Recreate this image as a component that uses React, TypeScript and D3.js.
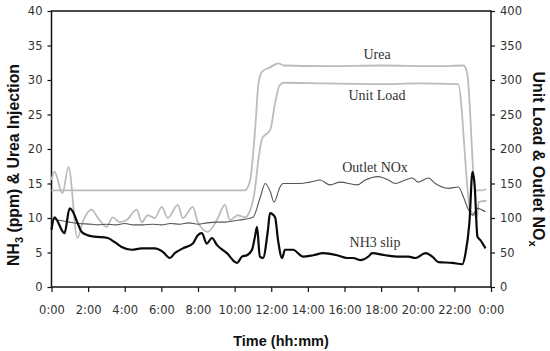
import { axisBottom, axisLeft, axisRight, curveMonotoneX, line, scaleLinear, select } from "d3";
import { useEffect, useRef } from "react";

// [hour, value] pairs
const urea: [number, number][] = [
  [0, 14], [5, 14], [10.56, 14], [10.85, 15.5], [11.0, 19], [11.15, 24],
  [11.3, 29.5], [11.5, 31.2], [11.9, 31.8], [12.4, 32.4], [12.7, 32.1],
  [15, 32], [18, 32.1], [21, 32], [22.5, 32.1], [22.7, 31], [23.15, 14],
  [23.5, 14], [23.75, 14.2],
];

const unitLoad: [number, number][] = [
  [0, 155], [0.16, 167], [0.6, 136], [0.93, 174], [1.42, 71], [1.7, 94],
  [2.19, 112], [2.52, 101], [3.01, 87], [3.34, 101], [3.72, 94], [4.1, 97],
  [4.65, 112], [4.93, 94], [5.25, 104], [5.64, 100], [6.02, 116], [6.35, 100],
  [6.9, 119], [7.17, 100], [7.72, 116], [7.99, 94], [8.54, 80], [9.03, 97],
  [9.47, 119], [9.74, 97], [10.18, 104], [10.56, 101], [10.9, 115], [11.1, 140],
  [11.3, 185], [11.5, 215], [11.95, 228], [12.2, 265], [12.45, 292], [12.7, 296],
  [15, 295], [18, 294], [20, 295], [22.2, 294], [22.88, 110], [23.26, 103],
  [23.32, 123], [23.75, 125],
];

const outletNox: [number, number][] = [
  [0, 99], [1.0, 94], [1.5, 92], [2.2, 91], [2.5, 90], [3.0, 91], [3.5, 90],
  [4.0, 92], [4.5, 90], [5.0, 90], [5.5, 91], [6.0, 90], [6.5, 92], [7.0, 91],
  [7.5, 93], [8.0, 91], [8.5, 93], [9.0, 94], [9.5, 94], [10.0, 96], [10.5, 98],
  [11.0, 101], [11.4, 130], [11.67, 150], [11.95, 138], [12.15, 123], [12.48, 145],
  [12.64, 150], [13.57, 150], [14.12, 152], [14.67, 155], [15.21, 148], [15.76, 152],
  [16.7, 148], [17.13, 155], [17.84, 160], [18.39, 155], [18.77, 150], [19.32, 155],
  [19.7, 158], [20.03, 152], [20.58, 158], [20.96, 150], [21.67, 143], [22.22, 145],
  [22.5, 130], [22.77, 112], [22.99, 104], [23.26, 114], [23.7, 109],
];

const nh3Slip: [number, number][] = [
  [0, 8.3], [0.16, 10.1], [0.71, 7.8], [0.99, 11.4], [1.15, 11.0], [1.42, 9.3],
  [1.64, 8.0], [1.97, 7.5], [2.35, 7.3], [3.07, 7.1], [3.45, 6.5], [3.83, 5.8],
  [4.38, 5.4], [4.93, 5.6], [5.64, 5.6], [6.08, 5.1], [6.46, 4.2], [6.73, 4.9],
  [7.17, 5.6], [7.72, 6.3], [7.99, 7.5], [8.21, 7.8], [8.48, 6.3], [8.76, 7.1],
  [9.03, 6.1], [9.58, 4.9], [10.13, 3.5], [10.4, 4.4], [10.67, 4.6], [10.95, 5.4],
  [11.11, 7.3], [11.22, 8.7], [11.38, 4.4], [11.55, 4.2], [11.82, 8.3], [11.93, 10.7],
  [12.21, 10.1], [12.37, 6.8], [12.59, 4.2], [12.75, 5.4], [13.19, 5.4], [13.74, 4.4],
  [14.29, 4.6], [14.83, 4.9], [15.6, 4.6], [16.15, 4.2], [16.47, 4.2], [16.86, 3.9],
  [17.3, 4.4], [17.51, 4.9], [18.23, 4.6], [18.94, 4.4], [19.49, 4.4], [19.87, 4.2],
  [20.42, 4.9], [20.8, 4.4], [21.13, 3.6], [21.89, 3.5], [22.44, 3.3], [22.61, 4.9],
  [22.82, 9.3], [22.99, 16.7], [23.1, 15], [23.26, 7.3], [23.42, 6.8], [23.7, 5.6],
];

const hourTicks = [0, 2, 4, 6, 8, 10, 12, 14, 16, 18, 20, 22, 24];
const hourLabels = ["0:00", "2:00", "4:00", "6:00", "8:00", "10:00", "12:00", "14:00", "16:00", "18:00", "20:00", "22:00", "0:00"];
const leftTicks = [0, 5, 10, 15, 20, 25, 30, 35, 40];
const rightTicks = [0, 50, 100, 150, 200, 250, 300, 350, 400];

const W = 550;
const H = 351;
const left = 51.5;
const right = 491;
const top = 11;
const bottom = 287;
const tickFont = "'DejaVu Sans', sans-serif";

function App() {
  const chartRef = useRef<SVGGElement>(null);

  useEffect(() => {
    const g = select(chartRef.current);
    g.selectAll("*").remove();

    const x = scaleLinear().domain([0, 24]).range([left, right]);
    const yLeft = scaleLinear().domain([0, 40]).range([bottom, top]);
    const yRight = scaleLinear().domain([0, 400]).range([bottom, top]);

    // frame
    g.append("rect")
      .attr("x", left)
      .attr("y", top)
      .attr("width", right - left)
      .attr("height", bottom - top)
      .attr("fill", "none")
      .attr("stroke", "#111")
      .attr("stroke-width", 1.5);

    const styleAxis = (a) => {
      a.select(".domain").remove();
      a.selectAll("line").attr("stroke", "#111").attr("stroke-width", 1.2);
      a.selectAll("text")
        .attr("font-family", tickFont)
        .attr("font-size", 11.5)
        .attr("fill", "#333");
    };

    g.append("g")
      .attr("transform", `translate(0,${bottom})`)
      .call(
        axisBottom(x)
          .tickValues(hourTicks)
          .tickFormat((_, i) => hourLabels[i])
          .tickSize(5)
          .tickPadding(14)
      )
      .call(styleAxis);

    g.append("g")
      .attr("transform", `translate(${left},0)`)
      .call(axisLeft(yLeft).tickValues(leftTicks).tickSize(4).tickPadding(5))
      .call(styleAxis);

    g.append("g")
      .attr("transform", `translate(${right},0)`)
      .call(axisRight(yRight).tickValues(rightTicks).tickSize(4).tickPadding(5))
      .call(styleAxis);

    const leftLine = line<[number, number]>()
      .x((d) => x(d[0]))
      .y((d) => yLeft(d[1]))
      .curve(curveMonotoneX);
    const rightLine = line<[number, number]>()
      .x((d) => x(d[0]))
      .y((d) => yRight(d[1]))
      .curve(curveMonotoneX);

    const series = [
      { data: urea, gen: leftLine, color: "#bcbcbc", width: 1.8 },
      { data: unitLoad, gen: rightLine, color: "#bcbcbc", width: 1.8 },
      { data: outletNox, gen: rightLine, color: "#555", width: 1.1 },
      { data: nh3Slip, gen: leftLine, color: "#0a0a0a", width: 2.2 },
    ];

    g.selectAll(".series")
      .data(series)
      .join("path")
      .attr("class", "series")
      .attr("d", (s) => s.gen(s.data))
      .attr("fill", "none")
      .attr("stroke", (s) => s.color)
      .attr("stroke-width", (s) => s.width)
      .attr("stroke-linejoin", "round");

    const labels = [
      { text: "Urea", x: 377, y: 59 },
      { text: "Unit Load", x: 377, y: 100 },
      { text: "Outlet NOx", x: 375, y: 172 },
      { text: "NH3 slip", x: 375, y: 247 },
    ];

    g.selectAll(".label")
      .data(labels)
      .join("text")
      .attr("class", "label")
      .attr("x", (d) => d.x)
      .attr("y", (d) => d.y)
      .attr("text-anchor", "middle")
      .attr("font-family", "'Liberation Serif', serif")
      .attr("font-size", 14)
      .attr("fill", "#333")
      .text((d) => d.text);
  }, []);

  const titleFont = { fontFamily: "'Liberation Sans', Arial, sans-serif", fontWeight: 700 };

  return (
    <svg
      width={W}
      height={H}
      style={{ position: "absolute", left: 0, top: 0, background: "#fff" }}
    >
      <g ref={chartRef} />
      <text x={281} y={346} textAnchor="middle" {...titleFont} fontSize={14.5} fill="#111">
        Time (hh:mm)
      </text>
      <text transform="translate(19,165) rotate(-90)" textAnchor="middle" {...titleFont} fontSize={15.8} fill="#111">
        NH<tspan fontSize={11} dy={4}>3</tspan>
        <tspan dy={-4}> (ppm) &amp; Urea Injection</tspan>
      </text>
      <text transform="translate(533,159) rotate(90)" textAnchor="middle" {...titleFont} fontSize={16} fill="#111">
        Unit Load &amp; Outlet NO<tspan fontSize={11} dy={4}>x</tspan>
      </text>
    </svg>
  );
}

export default App;
